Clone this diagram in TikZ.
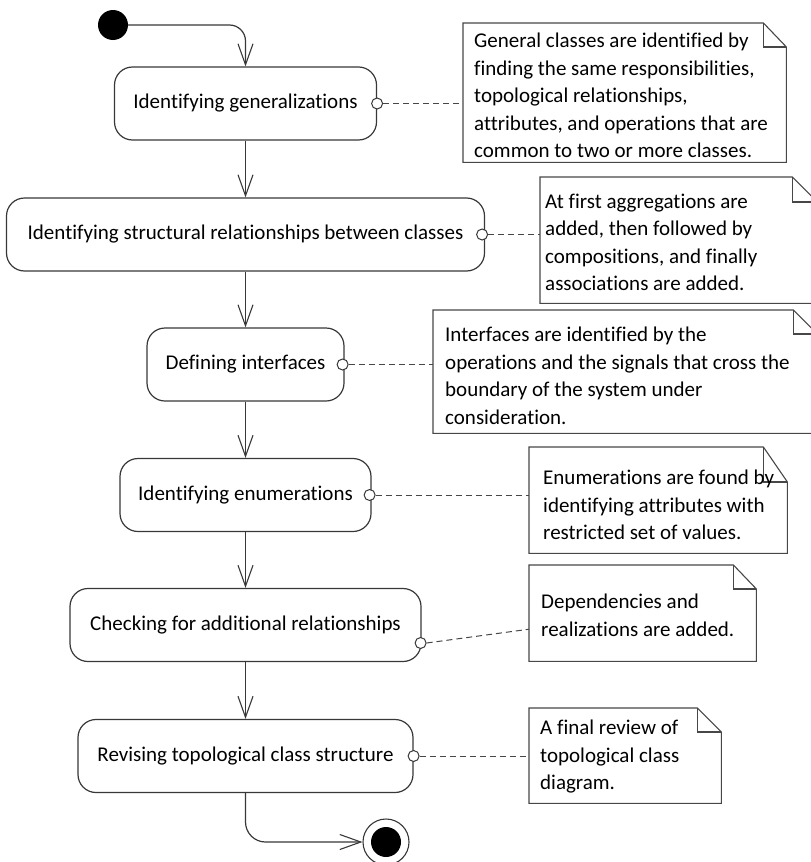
\documentclass[tikz,border=0pt]{standalone}
\usepackage{fontspec}
\setmainfont{Carlito}[Ligatures=NoCommon]
\usetikzlibrary{arrows.meta,calc}

% outline of a UML note: #1 node name, #2 fold width, #3 fold height
\newcommand\noteoutline[3]{%
  \draw[noteline] (#1.north west) -- ([xshift=-#2pt]#1.north east)
    -- ([yshift=-#3pt]#1.north east) -- (#1.south east) -- (#1.south west) -- cycle;
  \draw[noteline] ([xshift=-#2pt]#1.north east) |- ([yshift=-#3pt]#1.north east);
}

\begin{document}
\begin{tikzpicture}[x=1pt,y=-1pt,
  every node/.style={font=\fontsize{21}{27.5}\selectfont, text=black},
  act/.style={draw=black!78, line width=1.2pt, rounded corners=18pt, inner sep=0pt,
              minimum height=73pt},
  noteframe/.style={inner sep=0pt, anchor=north west},
  notetext/.style={inner sep=0pt, align=left, anchor=west},
  noteline/.style={draw=black!72, line width=1.1pt},
  flow/.style={draw=black!78, line width=1.2pt,
               -{Straight Barb[length=21pt,width=15pt,line width=1.1pt]}},
  anchorpt/.style={circle, draw=black!78, fill=white, line width=1pt,
                   minimum size=11pt, inner sep=0pt},
  link/.style={draw=black!72, line width=1pt, dash pattern=on 6pt off 4pt},
]
\useasboundingbox (0,0) rectangle (811,862);

% initial and final nodes
\node[circle, fill=black, minimum size=30pt, inner sep=0pt] (start) at (113,25) {};
\node[circle, draw=black!78, line width=1.1pt, fill=white, minimum size=46pt, inner sep=0pt] (end) at (386,842) {};
\node[circle, fill=black, minimum size=30pt, inner sep=0pt] (endcore) at (end.center) {};

% activities
\node[act, minimum width=262pt] (b1) at (245.5,103.5) {Identifying generalizations};
\node[act, minimum width=478pt] (b2) at (245.5,234.5) {Identifying structural relationships between classes};
\node[act, minimum width=197pt] (b3) at (245.5,364.5) {Defining interfaces};
\node[act, minimum width=251pt] (b4) at (245.5,495) {Identifying enumerations};
\node[act, minimum width=351pt] (b5) at (245.5,625) {Checking for additional relationships};
\node[act, minimum width=335pt] (b6) at (245.5,756) {Revising topological class structure};

% note frames
\node[noteframe, minimum width=323pt, minimum height=139pt] (n1) at (463,23) {};
\node[noteframe, minimum width=277pt, minimum height=126pt] (n2) at (540,177) {};
\node[noteframe, minimum width=384pt, minimum height=123pt] (n3) at (433,310) {};
\node[noteframe, minimum width=258pt, minimum height=106pt] (n4) at (529,447) {};
\node[noteframe, minimum width=227pt, minimum height=96pt] (n5) at (529,565) {};
\node[noteframe, minimum width=192pt, minimum height=95pt] (n6) at (529,708) {};

\noteoutline{n1}{23}{24}
\noteoutline{n2}{25}{25}
\noteoutline{n3}{24}{24}
\noteoutline{n4}{24}{35}
\noteoutline{n5}{23}{24}
\noteoutline{n6}{24}{24}

% note texts
\node[notetext] (n1t) at ($(n1.west)+(11,3)$)
  {General classes are identified by\\finding the same responsibilities,\\topological relationships,\\attributes, and operations that are\\common to two or more classes.};
\node[notetext] (n2t) at ($(n2.west)+(5,2)$)
  {At first aggregations are\\added, then followed by\\compositions, and finally\\associations are added.};
\node[notetext] (n3t) at ($(n3.west)+(12,4)$)
  {Interfaces are identified by the\\operations and the signals that cross the\\boundary of the system under\\consideration.};
\node[notetext] (n4t) at ($(n4.west)+(14,5)$)
  {Enumerations are found by\\identifying attributes with\\restricted set of values.};
\node[notetext] (n5t) at ($(n5.west)+(12,2)$)
  {Dependencies and\\realizations are added.};
\node[notetext] (n6t) at ($(n6.west)+(11,1)$)
  {A final review of\\topological class\\diagram.};

% control flow
\draw[flow, rounded corners=16pt] (start.east) -| (b1.north);
\draw[flow] (b1.south) -- (b1.south |- b2.north);
\draw[flow] (b2.south) -- (b2.south |- b3.north);
\draw[flow] (b3.south) -- (b3.south |- b4.north);
\draw[flow] (b4.south) -- (b4.south |- b5.north);
\draw[flow] (b5.south) -- (b5.south |- b6.north);
\draw[flow, rounded corners=20pt] (b6.south) |- (end.west);

% note attachments
\node[anchorpt] (c1) at (b1.east) {};
\node[anchorpt] (c2) at ([xshift=-3pt]b2.east) {};
\node[anchorpt] (c3) at ([xshift=-2pt]b3.east) {};
\node[anchorpt] (c4) at ([xshift=-2pt]b4.east) {};
\node[anchorpt] (c5) at ($(b5.east)+(-1,18)$) {};
\node[anchorpt] (c6) at (b6.east) {};
\coordinate (t5) at ($(n5.west)+(0,16)$);

\draw[link] (c1.east) -- (c1.east -| n1.west);
\draw[link] (c2.east) -- (c2.east -| n2.west);
\draw[link] (c3.east) -- (c3.east -| n3.west);
\draw[link] (c4.east) -- (c4.east -| n4.west);
\draw[link] (c5.east) -- (t5);
\draw[link] (c6.east) -- (c6.east -| n6.west);
\end{tikzpicture}
\end{document}
